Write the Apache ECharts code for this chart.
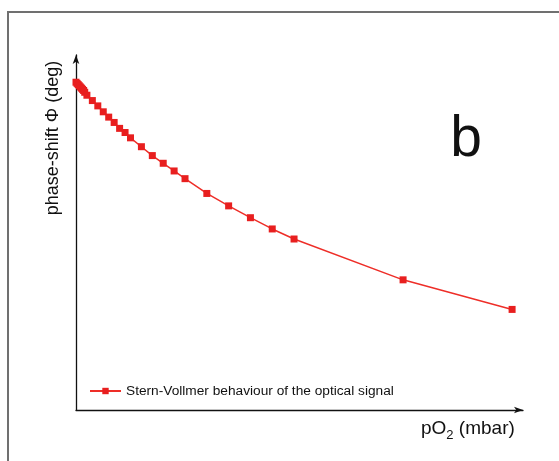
<!DOCTYPE html>
<html>
<head>
<meta charset="UTF-8">
<title>Stern-Vollmer</title>
<style>
  html, body { margin: 0; padding: 0; background: #fff; }
  #chart { width: 559px; height: 461px; }
</style>
</head>
<body>
<div id="chart"></div>
<script src="https://cdn.jsdelivr.net/npm/echarts@6/dist/echarts.min.js"></script>
<script>
// oxygen partial pressure (mbar) and phase shift (deg, arbitrary scale - no ticks shown)
var pO2 = [0, 0.5, 1, 1.5, 2, 2.5, 3, 3.5, 4, 5, 7.5, 10, 12.5, 15, 17.5, 20, 22.5, 25,
           30, 35, 40, 45, 50, 60, 70, 80, 90, 100, 150, 200];
var phase = [55.4, 55.2, 55.0, 54.8, 54.6, 54.4, 54.2, 54.0, 53.7, 53.2, 52.3, 51.4, 50.4,
             49.5, 48.6, 47.6, 46.9, 46.0, 44.5, 43.0, 41.7, 40.4, 39.1, 36.6, 34.5, 32.5,
             30.6, 28.9, 22.0, 17.0];
var seriesName = 'Stern-Vollmer behaviour of the optical signal';
var yTitle = 'phase-shift \u03a6 (deg)';
var xTitle = ['pO', '2', ' (mbar)'];

var points = [];
for (var i = 0; i < pO2.length; i++) {
    points.push([pO2[i], phase[i]]);
}

var font = 'Liberation Sans, Arial, sans-serif';

// measure text widths so the subscript pieces sit next to each other
var ctx = document.createElement('canvas').getContext('2d');
function textWidth(str, size) {
    ctx.font = size + 'px ' + font;
    return ctx.measureText(str).width;
}
var xTitleLeft = 421, xTitleTop = 419;
var w0 = textWidth(xTitle[0], 19);
var w1 = textWidth(xTitle[1], 13);

var chart = echarts.init(document.getElementById('chart'));

var option = {
    backgroundColor: '#fff',
    animation: false,
    grid: { left: 76, top: 55, right: 36, bottom: 51 },
    legend: {
        left: 89,
        top: 384,
        padding: 0,
        itemWidth: 31,
        itemHeight: 8,
        itemGap: 5,
        textStyle: { fontSize: 13.7, color: '#111', fontFamily: font },
        data: [seriesName]
    },
    xAxis: {
        type: 'value',
        min: 0,
        max: 205,
        axisLine: {
            lineStyle: { color: '#111', width: 1.3 },
            symbol: ['none', 'arrow'],
            symbolSize: [5, 9]
        },
        axisTick: { show: false },
        axisLabel: { show: false },
        splitLine: { show: false }
    },
    yAxis: {
        type: 'value',
        min: 0,
        max: 60,
        axisLine: {
            show: true,
            lineStyle: { color: '#111', width: 1.3 },
            symbol: ['none', 'arrow'],
            symbolSize: [5, 9]
        },
        axisTick: { show: false },
        axisLabel: { show: false },
        splitLine: { show: false }
    },
    graphic: [
        {
            type: 'rect',
            shape: { x: 8, y: 12, width: 600, height: 500 },
            style: { fill: 'none', stroke: '#707070', lineWidth: 2 },
            silent: true
        },
        {
            type: 'text',
            x: 53,
            y: 138,
            rotation: Math.PI / 2,
            style: {
                text: yTitle,
                fontSize: 18,
                fontFamily: font,
                fill: '#111',
                align: 'center',
                verticalAlign: 'middle'
            }
        },
        {
            type: 'text',
            x: xTitleLeft,
            y: xTitleTop,
            style: { text: xTitle[0], fontSize: 19, fontFamily: font, fill: '#111' }
        },
        {
            type: 'text',
            x: xTitleLeft + w0,
            y: xTitleTop + 10,
            style: { text: xTitle[1], fontSize: 13, fontFamily: font, fill: '#111' }
        },
        {
            type: 'text',
            x: xTitleLeft + w0 + w1,
            y: xTitleTop,
            style: { text: xTitle[2], fontSize: 19, fontFamily: font, fill: '#111' }
        },
        {
            type: 'text',
            x: 466,
            y: 140,
            style: {
                text: 'b',
                fontSize: 57,
                fontFamily: font,
                fill: '#111',
                align: 'center',
                verticalAlign: 'middle'
            }
        }
    ],
    series: [
        {
            name: seriesName,
            type: 'line',
            data: points,
            symbol: 'rect',
            symbolSize: 7,
            lineStyle: { color: '#ee2e28', width: 1.5 },
            itemStyle: { color: '#e81f1f' }
        }
    ]
};
chart.setOption(option);
</script>
</body>
</html>
